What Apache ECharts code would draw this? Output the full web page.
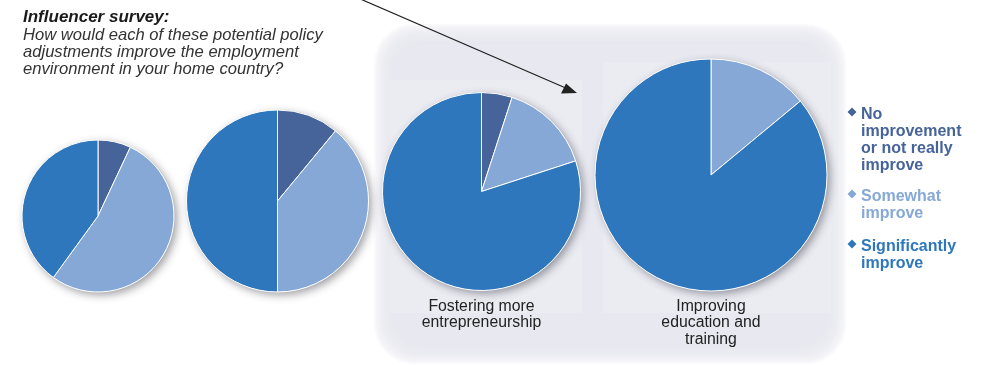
<!DOCTYPE html>
<html>
<head>
<meta charset="utf-8">
<style>
  html, body { margin: 0; padding: 0; background: #ffffff; }
  #chart { width: 981px; height: 365px; }
</style>
<script src="https://cdn.jsdelivr.net/npm/echarts@6/dist/echarts.min.js"></script>
</head>
<body>
<div id="chart"></div>
<script>
// Survey answer categories (legend order)
const categories = ['No improvement or not really improve', 'Somewhat improve', 'Significantly improve'];

// Policy adjustments, one pie each (first two labels lie outside the frame)
const policies = ['', '', 'Fostering more entrepreneurship', 'Improving education and training'];

// Share of respondents, in %, per policy
const noImprovement        = [7, 11, 5, 0];
const somewhatImprove      = [53, 39, 15, 14];
const significantlyImprove = [40, 50, 80, 86];

const seriesValues = [noImprovement, somewhatImprove, significantlyImprove];

// Presentation
const FONT = '"Liberation Sans", Arial, Helvetica, sans-serif';
const colors = ['#46639a', '#86a8d7', '#2e77bc'];
const pieLayout = [
  { center: [98, 216],      radius: 76 },
  { center: [277.5, 201],   radius: 91 },
  { center: [481.5, 191.5], radius: 99 },
  { center: [711, 175],     radius: 116 }
];

// word wrap by measured width
const measureCtx = document.createElement('canvas').getContext('2d');
function wrap(text, font, maxWidth) {
  measureCtx.font = font;
  const words = text.split(' ');
  const lines = [];
  let line = '';
  words.forEach(function (w) {
    const trial = line ? line + ' ' + w : w;
    if (line && measureCtx.measureText(trial).width > maxWidth) {
      lines.push(line);
      line = w;
    } else {
      line = trial;
    }
  });
  if (line) lines.push(line);
  return lines.join('\n');
}

const series = [];
policies.forEach(function (policy, i) {
  const total = seriesValues.reduce(function (s, arr) { return s + arr[i]; }, 0);
  // soft drop shadow beneath each pie
  series.push({
    type: 'pie',
    silent: true,
    z: 1,
    center: pieLayout[i].center,
    radius: pieLayout[i].radius,
    label: { show: false },
    labelLine: { show: false },
    itemStyle: {
      color: '#ffffff',
      shadowBlur: 9,
      shadowOffsetX: 3,
      shadowOffsetY: 3,
      shadowColor: 'rgba(40,40,50,0.45)'
    },
    data: [{ value: total, name: 'shadow' }]
  });
  series.push({
    type: 'pie',
    name: policy,
    z: 2,
    startAngle: 90,
    clockwise: true,
    center: pieLayout[i].center,
    radius: pieLayout[i].radius,
    label: { show: false },
    labelLine: { show: false },
    emphasis: { disabled: true },
    animation: false,
    itemStyle: { borderColor: '#ffffff', borderWidth: 1 },
    data: categories.map(function (c, k) {
      return { name: c, value: seriesValues[k][i], itemStyle: { color: colors[k] } };
    })
  });
});

const graphics = [];

// shaded panel with feathered edges: stacked translucent rounded rects
const panel = { x0: 374, y0: 24, x1: 846, y1: 364 };
for (let n = 0; n < 10; n++) {
  const inset = n * 2.2;
  graphics.push({
    type: 'rect', z: -10,
    shape: {
      x: panel.x0 + inset, y: panel.y0 + inset,
      width: panel.x1 - panel.x0 - 2 * inset,
      height: panel.y1 - panel.y0 - 2 * inset,
      r: 40 - n * 1.5
    },
    style: { fill: '#e8e9f0', opacity: 0.25 }
  });
}
// faint lighter panels behind the two highlighted pies
graphics.push(
  {
    type: 'rect', z: -8,
    shape: { x: 390, y: 80, width: 192, height: 233 },
    style: { fill: '#ffffff', opacity: 0.14 }
  },
  {
    type: 'rect', z: -8,
    shape: { x: 603, y: 62, width: 228, height: 251 },
    style: { fill: '#ffffff', opacity: 0.14 }
  },
  // pointer arrow
  {
    type: 'line', z: 20,
    shape: { x1: 358, y1: -2, x2: 568, y2: 89 },
    style: { stroke: '#222222', lineWidth: 1.2 }
  },
  {
    type: 'polygon', z: 20,
    shape: { points: [[577, 93], [561, 93.5], [566, 83.5]] },
    style: { fill: '#222222' }
  }
);

// policy captions under the pies
const captionFont = '15.8px ' + FONT;
policies.forEach(function (policy, i) {
  if (!policy) return;
  graphics.push({
    type: 'text', z: 20,
    x: pieLayout[i].center[0],
    y: 298,
    style: {
      text: wrap(policy, captionFont, 125),
      font: captionFont,
      fill: '#222222',
      align: 'center',
      verticalAlign: 'top',
      lineHeight: 16.5
    }
  });
});

// legend: diamond marker + wrapped bold label
const legendFont = 'bold 16px ' + FONT;
const legendTops = [106, 188, 238];
categories.forEach(function (c, k) {
  const y = legendTops[k] + 6;
  graphics.push({
    type: 'polygon', z: 20,
    shape: { points: [[852, y - 4.5], [856.5, y], [852, y + 4.5], [847.5, y]] },
    style: { fill: colors[k] }
  });
  graphics.push({
    type: 'text', z: 20,
    x: 861,
    y: legendTops[k],
    style: {
      text: wrap(c, legendFont, 112),
      font: legendFont,
      fill: colors[k],
      align: 'left',
      verticalAlign: 'top',
      lineHeight: 17
    }
  });
});

const chart = echarts.init(document.getElementById('chart'), null, { renderer: 'canvas' });
chart.setOption({
  animation: false,
  backgroundColor: '#ffffff',
  title: {
    text: 'Influencer survey:',
    subtext: 'How would each of these potential policy\nadjustments improve the employment\nenvironment in your home country?',
    left: 18,
    top: 4,
    itemGap: 1,
    textStyle: { fontFamily: FONT, fontSize: 17, fontWeight: 'bold', fontStyle: 'italic', color: '#1a1a1a' },
    subtextStyle: { fontFamily: FONT, fontSize: 16.6, fontStyle: 'italic', color: '#333333', lineHeight: 17 }
  },
  tooltip: { show: false },
  series: series,
  graphic: graphics
});
</script>
</body>
</html>
